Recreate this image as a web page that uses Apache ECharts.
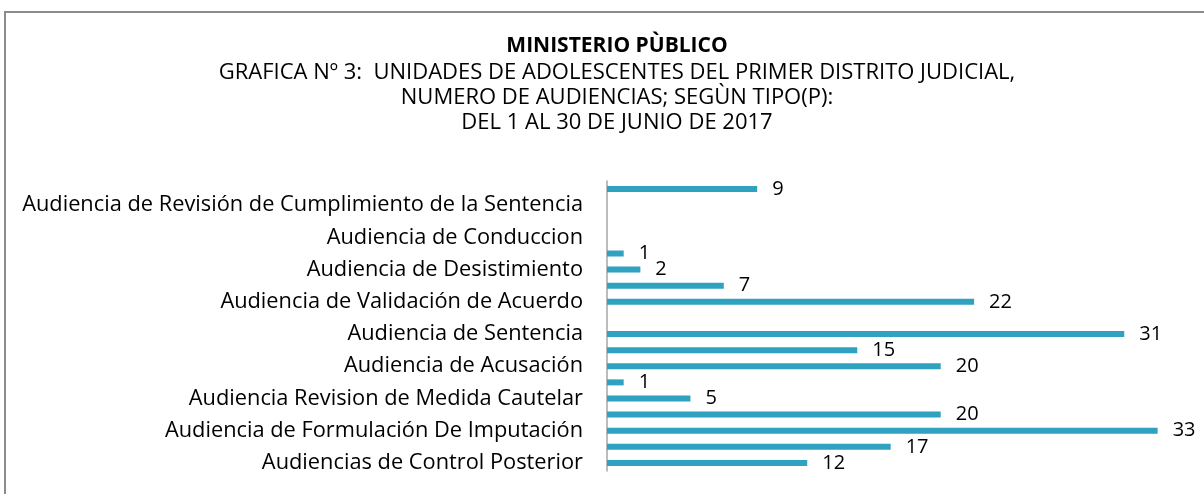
<!DOCTYPE html>
<html>
<head>
<meta charset="utf-8">
<script src="https://cdn.jsdelivr.net/npm/echarts@6/dist/echarts.min.js"></script>
<style>
  html, body { margin: 0; padding: 0; background: #fff; }
  #chart { width: 1204px; height: 494px; }
</style>
</head>
<body>
<div id="chart"></div>
<script>
  // categorias de arriba hacia abajo; '' = fila sin etiqueta
  var categories = [
    '', 'Audiencia de Revisión de Cumplimiento de la Sentencia',
    '', 'Audiencia de Conduccion',
    '', 'Audiencia de Desistimiento',
    '', 'Audiencia de Validación de Acuerdo',
    '', 'Audiencia de Sentencia',
    '', 'Audiencia de Acusación',
    '', 'Audiencia Revision de Medida Cautelar',
    '', 'Audiencia de Formulación De Imputación',
    '', 'Audiencias de Control Posterior'
  ];
  var values = [9, 0, 0, 0, 1, 2, 7, 22, 0, 31, 15, 20, 1, 5, 20, 33, 17, 12];
  var titleLines = [
    'GRAFICA Nº 3:  UNIDADES DE ADOLESCENTES DEL PRIMER DISTRITO JUDICIAL,',
    'NUMERO DE AUDIENCIAS; SEGÙN TIPO(P):',
    'DEL 1 AL 30 DE JUNIO DE 2017'
  ];

  var font = 'Open Sans';
  var chart = echarts.init(document.getElementById('chart'));
  chart.setOption({
    animation: false,
    backgroundColor: '#fff',
    graphic: [{
      type: 'rect',
      shape: { x: 5, y: 12, width: 1400, height: 700 },
      style: { fill: 'none', stroke: '#8c8c8c', lineWidth: 2 },
      silent: true
    }],
    title: {
      text: 'MINISTERIO PÙBLICO',
      subtext: titleLines.join('\n'),
      left: 612,
      textAlign: 'center',
      top: 29,
      itemGap: 1,
      textStyle: { fontFamily: font, fontWeight: 'bold', fontSize: 21, color: '#000', lineHeight: 25 },
      subtextStyle: { fontFamily: font, fontSize: 22, color: '#000', lineHeight: 25, align: 'center' }
    },
    grid: { left: 607, top: 181, width: 584, height: 290 },
    xAxis: {
      type: 'value',
      min: 0,
      max: 35,
      axisLine: { show: false },
      axisTick: { show: false },
      axisLabel: { show: false },
      splitLine: { show: false }
    },
    yAxis: {
      type: 'category',
      inverse: true,
      data: categories,
      axisLine: { show: true, lineStyle: { color: '#a6a6a6', width: 1.5 } },
      axisTick: { show: false },
      axisLabel: { interval: 0, margin: 24, fontFamily: font, fontSize: 21.8, color: '#000' }
    },
    series: [{
      type: 'bar',
      data: values,
      barWidth: 6,
      itemStyle: { color: '#2fa2bf' },
      label: {
        show: true,
        position: 'right',
        distance: 15,
        fontFamily: font,
        fontSize: 20,
        color: '#000',
        formatter: function (p) { return p.value ? p.value : ''; }
      }
    }]
  });
</script>
</body>
</html>
